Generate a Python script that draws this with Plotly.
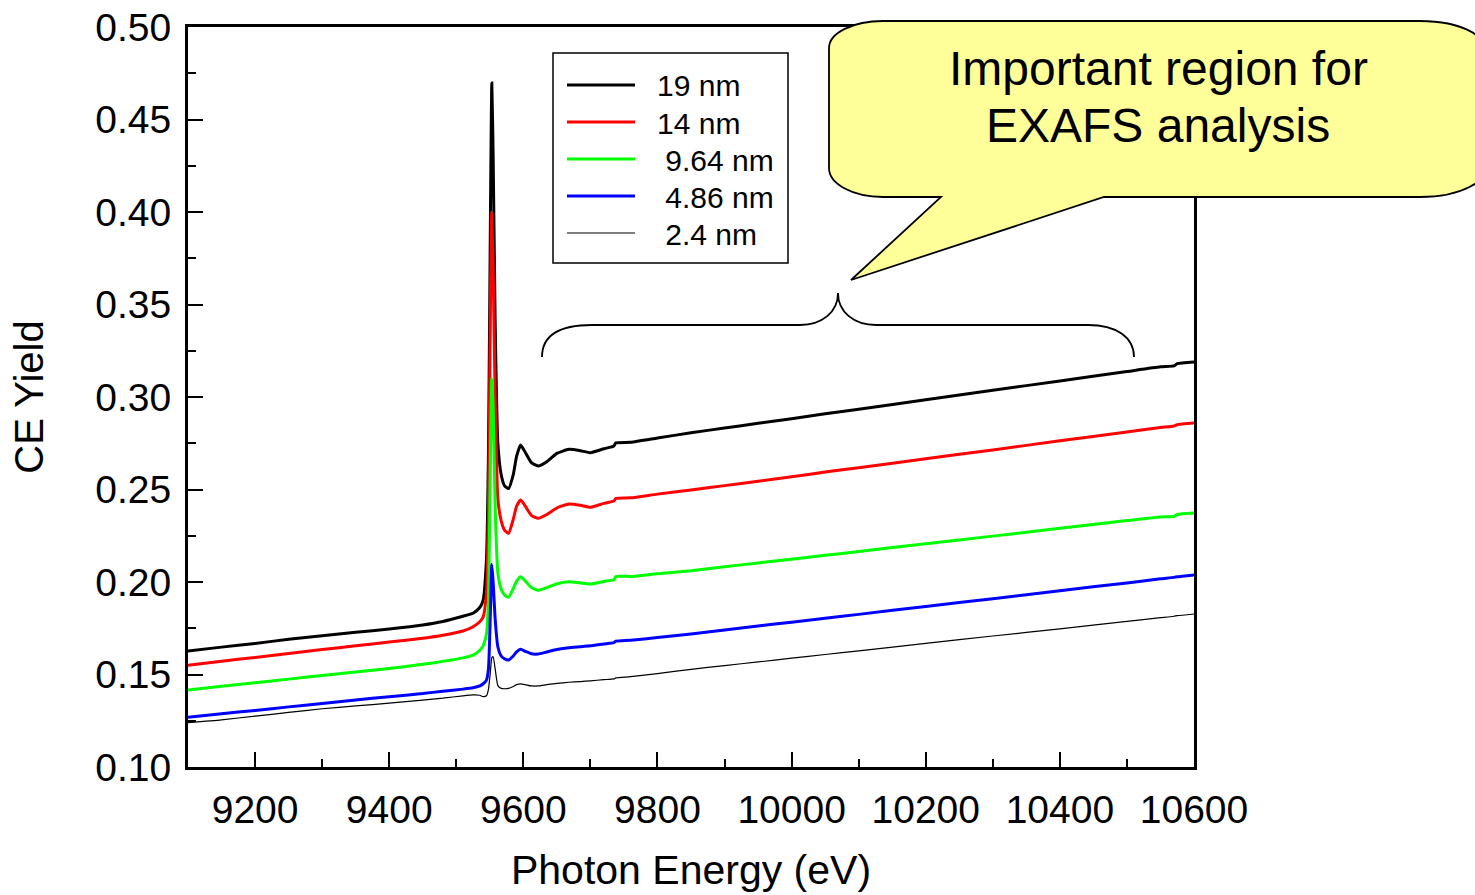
import plotly.graph_objects as go

# Photon energy grid (eV), shared by all spectra
energy = [
    9100, 9150, 9200, 9250, 9300, 9350, 9400, 9450, 9480, 9510,
    9525, 9535, 9540, 9545, 9548, 9551, 9553, 9555, 9558, 9562,
    9567, 9572, 9578, 9585, 9590, 9596, 9603, 9612, 9622, 9635,
    9650, 9668, 9685, 9700, 9720, 9735, 9738, 9760, 9800, 9850,
    9900, 9950, 10000, 10050, 10100, 10200, 10300, 10400, 10500, 10550,
    10570, 10575, 10600,
]

# CE yield for each film thickness
yield_19nm = [
    0.1627, 0.1648, 0.1668, 0.1690, 0.1710, 0.1728, 0.1746, 0.1768, 0.1787, 0.1815,
    0.1831, 0.1862, 0.1900, 0.2120, 0.2700, 0.4000, 0.4697, 0.4300, 0.3400, 0.2750,
    0.2580, 0.2520, 0.2505, 0.2580, 0.2680, 0.2740, 0.2700, 0.2645, 0.2627, 0.2650,
    0.2695, 0.2717, 0.2710, 0.2699, 0.2720, 0.2735, 0.2752, 0.2755, 0.2778, 0.2807,
    0.2832, 0.2858, 0.2883, 0.2909, 0.2934, 0.2985, 0.3036, 0.3087, 0.3138, 0.3163,
    0.3168, 0.3180, 0.3189,
]
yield_14nm = [
    0.1550, 0.1572, 0.1592, 0.1613, 0.1635, 0.1655, 0.1676, 0.1696, 0.1712, 0.1735,
    0.1758, 0.1785, 0.1810, 0.1940, 0.2400, 0.3500, 0.4000, 0.3700, 0.3000, 0.2450,
    0.2330, 0.2280, 0.2263, 0.2340, 0.2410, 0.2443, 0.2410, 0.2360, 0.2344, 0.2365,
    0.2400, 0.2422, 0.2415, 0.2404, 0.2425, 0.2438, 0.2452, 0.2455, 0.2475, 0.2497,
    0.2521, 0.2545, 0.2569, 0.2594, 0.2618, 0.2666, 0.2714, 0.2763, 0.2811, 0.2835,
    0.2843, 0.2850, 0.2859,
]
yield_9p64nm = [
    0.1416, 0.1436, 0.1455, 0.1475, 0.1495, 0.1514, 0.1533, 0.1555, 0.1571, 0.1590,
    0.1605, 0.1630, 0.1655, 0.1720, 0.1900, 0.2700, 0.3100, 0.2950, 0.2400, 0.2050,
    0.1960, 0.1930, 0.1917, 0.1965, 0.2005, 0.2029, 0.2005, 0.1970, 0.1955, 0.1970,
    0.1990, 0.2002, 0.1995, 0.1989, 0.2003, 0.2012, 0.2030, 0.2030, 0.2045, 0.2061,
    0.2082, 0.2103, 0.2123, 0.2144, 0.2165, 0.2207, 0.2248, 0.2290, 0.2332, 0.2352,
    0.2354, 0.2365, 0.2373,
]
yield_4p86nm = [
    0.1269, 0.1288, 0.1306, 0.1325, 0.1343, 0.1362, 0.1380, 0.1397, 0.1410, 0.1421,
    0.1428, 0.1438, 0.1450, 0.1470, 0.1530, 0.1850, 0.2095, 0.2000, 0.1800, 0.1650,
    0.1600, 0.1585, 0.1578, 0.1600, 0.1622, 0.1636, 0.1625, 0.1612, 0.1611, 0.1622,
    0.1635, 0.1645, 0.1650, 0.1655, 0.1665, 0.1672, 0.1680, 0.1685, 0.1700, 0.1719,
    0.1740, 0.1762, 0.1783, 0.1804, 0.1825, 0.1868, 0.1910, 0.1953, 0.1995, 0.2017,
    0.2025, 0.2028, 0.2038,
]
yield_2p4nm = [
    0.1240, 0.1255, 0.1275, 0.1295, 0.1315, 0.1330, 0.1345, 0.1362, 0.1372, 0.1385,
    0.1390, 0.1388, 0.1380, 0.1385, 0.1420, 0.1520, 0.1590, 0.1596, 0.1530, 0.1440,
    0.1425, 0.1423, 0.1425, 0.1435, 0.1445, 0.1449, 0.1445, 0.1438, 0.1438, 0.1445,
    0.1452, 0.1458, 0.1462, 0.1466, 0.1472, 0.1476, 0.1482, 0.1488, 0.1505, 0.1528,
    0.1548, 0.1568, 0.1588, 0.1608, 0.1628, 0.1668, 0.1708, 0.1747, 0.1787, 0.1807,
    0.1815, 0.1818, 0.1827,
]

series_names = ["19 nm", "14 nm", "\u00a09.64 nm", "\u00a04.86 nm", "\u00a02.4 nm"]
series_values = [yield_19nm, yield_14nm, yield_9p64nm, yield_4p86nm, yield_2p4nm]
series_colors = ["#000000", "#ff0000", "#00ff00", "#0000ff", "#000000"]
series_widths = [3, 3, 3, 3, 1.2]

x_ticks = [9200, 9400, 9600, 9800, 10000, 10200, 10400, 10600]
y_ticks = [0.10, 0.15, 0.20, 0.25, 0.30, 0.35, 0.40, 0.45, 0.50]

FONT = "Liberation Sans, Arial, sans-serif"
W, H = 1475, 895
L, R, T, B = 188, 1194, 27, 767  # plot area in pixels


def px(x):
    return (x - L) / (R - L)


def py(y):
    return (B - y) / (B - T)


fig = go.Figure()
for name, vals, col, lw in zip(series_names, series_values, series_colors, series_widths):
    fig.add_trace(go.Scatter(
        x=energy, y=vals, name=name, mode="lines",
        line=dict(color=col, width=lw, shape="spline", smoothing=0.5),
        showlegend=False,
    ))

shapes = []
annotations = []

# Legend box with line samples
shapes.append(dict(type="rect", xref="paper", yref="paper",
                   x0=px(553), x1=px(788), y0=py(263), y1=py(53),
                   line=dict(color="black", width=1.5), fillcolor="white", layer="above"))
row_y = [85, 122, 159, 196, 233]
for name, col, lw, ry in zip(series_names, series_colors, series_widths, row_y):
    shapes.append(dict(type="line", xref="paper", yref="paper",
                       x0=px(567), x1=px(635), y0=py(ry), y1=py(ry),
                       line=dict(color=col, width=lw), layer="above"))
    annotations.append(dict(text=name, xref="paper", yref="paper",
                            x=px(655), y=py(ry + 1), xanchor="left", yanchor="middle",
                            showarrow=False, font=dict(family=FONT, size=30, color="black")))

# Brace marking the EXAFS region
brace = (
    f"M {px(542)},{py(357)} "
    f"C {px(542)},{py(335)} {px(560)},{py(325)} {px(592)},{py(325)} "
    f"L {px(800)},{py(325)} "
    f"C {px(822)},{py(325)} {px(838)},{py(312)} {px(838)},{py(293)} "
    f"C {px(838)},{py(312)} {px(854)},{py(325)} {px(876)},{py(325)} "
    f"L {px(1088)},{py(325)} "
    f"C {px(1116)},{py(325)} {px(1134)},{py(337)} {px(1134)},{py(357)}"
)
shapes.append(dict(type="path", xref="paper", yref="paper", path=brace,
                   line=dict(color="black", width=1.8), layer="above"))

# Speech-bubble callout
bubble = (
    f"M {px(883)},{py(21)} L {px(1420)},{py(21)} "
    f"C {px(1460)},{py(21)} {px(1490)},{py(35)} {px(1490)},{py(60)} "
    f"L {px(1490)},{py(160)} "
    f"C {px(1490)},{py(182)} {px(1460)},{py(197)} {px(1420)},{py(197)} "
    f"L {px(1104)},{py(197)} L {px(851)},{py(280)} L {px(941)},{py(197)} "
    f"L {px(883)},{py(197)} "
    f"C {px(853)},{py(197)} {px(829)},{py(184)} {px(829)},{py(168)} "
    f"L {px(829)},{py(48)} "
    f"C {px(829)},{py(33)} {px(853)},{py(21)} {px(883)},{py(21)} Z"
)
shapes.append(dict(type="path", xref="paper", yref="paper", path=bubble,
                   line=dict(color="black", width=1.8), fillcolor="#ffff99", layer="above"))
for txt, ty in [("Important region for", 69), ("EXAFS analysis", 126)]:
    annotations.append(dict(text=txt, xref="paper", yref="paper",
                            x=px(1158), y=py(ty), xanchor="center", yanchor="middle",
                            showarrow=False, font=dict(family=FONT, size=48, color="black")))

fig.update_layout(
    width=W, height=H,
    margin=dict(l=L, r=W - R, t=T, b=H - B, pad=0, autoexpand=False),
    paper_bgcolor="white", plot_bgcolor="white",
    font=dict(family=FONT, color="black"),
    shapes=shapes, annotations=annotations,
    showlegend=False,
)
fig.update_xaxes(
    range=[9100, 10600], tickvals=x_ticks, ticktext=[str(v) for v in x_ticks],
    ticks="inside", ticklen=15, tickwidth=2, tickcolor="black",
    minor=dict(dtick=100, tick0=9100, ticks="inside", ticklen=8, tickwidth=2, tickcolor="black"),
    showline=True, linewidth=3, linecolor="black", mirror=True,
    showgrid=False, zeroline=False, automargin=False,
    tickfont=dict(family=FONT, size=39), ticklabelstandoff=6,
    title=dict(text="Photon Energy (eV)", font=dict(family=FONT, size=41), standoff=26),
)
fig.update_yaxes(
    range=[0.10, 0.50], tickvals=y_ticks, ticktext=[f"{v:.2f}" for v in y_ticks],
    ticks="inside", ticklen=15, tickwidth=2, tickcolor="black",
    minor=dict(dtick=0.025, tick0=0.10, ticks="inside", ticklen=8, tickwidth=2, tickcolor="black"),
    showline=True, linewidth=3, linecolor="black", mirror=True,
    showgrid=False, zeroline=False, automargin=False,
    tickfont=dict(family=FONT, size=39), ticklabelstandoff=6,
    title=dict(text="CE Yield", font=dict(family=FONT, size=40), standoff=40),
)

fig.write_html("out.html")
